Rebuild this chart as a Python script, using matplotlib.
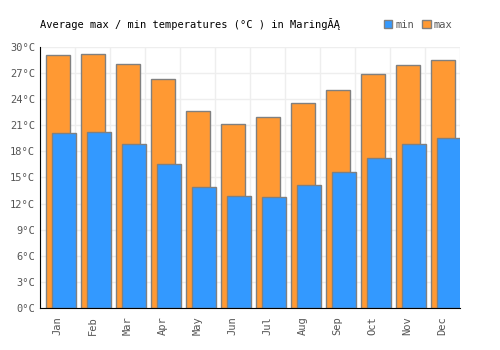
import numpy as np
import matplotlib
matplotlib.use("Agg")
import matplotlib.pyplot as plt
from matplotlib.patches import Patch

months = ["Jan", "Feb", "Mar", "Apr", "May", "Jun", "Jul", "Aug", "Sep", "Oct", "Nov", "Dec"]
t_max = [29.05, 29.2, 28.0, 26.3, 22.6, 21.1, 21.9, 23.6, 25.1, 26.9, 27.9, 28.5]
t_min = [20.1, 20.2, 18.9, 16.6, 13.9, 12.9, 12.7, 14.1, 15.6, 17.2, 18.8, 19.5]
yticks = list(range(0, 31, 3))

plt.rcParams['font.family'] = ['DejaVu Sans Mono']

fig = plt.figure(figsize=(5, 3.5), dpi=100)
ax = fig.add_axes([0.08, 0.12, 0.84, 0.746])

x = np.arange(len(months))
edge = "#808080"
ax.bar(x + 0.015, t_max, width=0.66, color="#ff9933", edgecolor=edge, linewidth=1, zorder=2)
ax.bar(x + 0.175, t_min, width=0.69, color="#3399ff", edgecolor=edge, linewidth=1, zorder=3)

ax.set_xlim(-0.5, 11.5)
ax.set_ylim(0, 30)
ax.set_yticks(yticks)
ax.set_yticklabels([f"{v}°C" for v in yticks])
ax.set_xticks(x)
ax.set_xticklabels(months, rotation=90)
ax.tick_params(axis="both", length=0, labelsize=7.5, labelcolor="#555555")
ax.tick_params(axis="x", pad=6)

for v in yticks:
    ax.axhline(v, color="#eeeeee", linewidth=1, zorder=0)
for b in np.arange(-0.5, 12, 1):
    ax.axvline(b, color="#eeeeee", linewidth=1, zorder=0)

for s in ["top", "right"]:
    ax.spines[s].set_visible(False)
ax.spines["left"].set_color("black")
ax.spines["bottom"].set_color("black")
ax.spines["left"].set_zorder(4)
ax.spines["bottom"].set_zorder(4)

fig.text(0.08, 0.93, "Average max / min temperatures (°C ) in Maring\u0102\u0104",
         fontsize=7.5, color="black", va="center")

handles = [Patch(facecolor="#3399ff", edgecolor=edge, label="min"),
           Patch(facecolor="#ff9933", edgecolor=edge, label="max")]
leg = fig.legend(handles=handles, loc="center right", bbox_to_anchor=(0.905, 0.93),
                 ncol=2, frameon=False, fontsize=7.5, handlelength=0.8, handleheight=0.8,
                 handletextpad=0.3, columnspacing=0.8, borderaxespad=0, borderpad=0)
for t in leg.get_texts():
    t.set_color("#555555")

fig.savefig("out.png", dpi=100)
